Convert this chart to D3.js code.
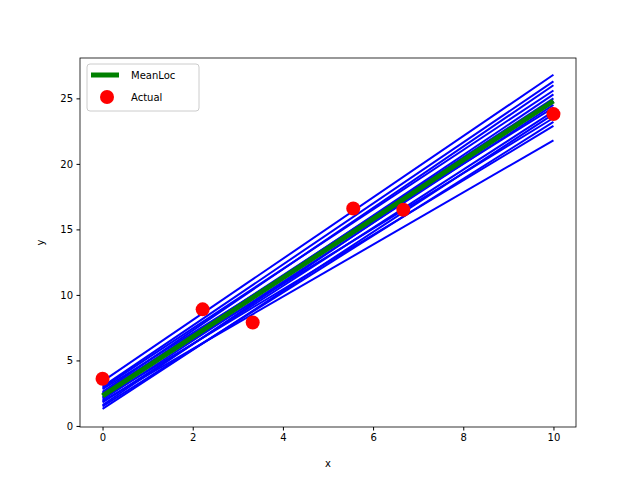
<!DOCTYPE html>
<html><head><meta charset="utf-8">
<script src="https://cdn.jsdelivr.net/npm/d3@7"></script>
<style>body{margin:0;background:#fff}text{font-family:"DejaVu Sans",sans-serif}</style>
</head><body><svg id="chart" width="640" height="480"></svg>
<script>
// sample lines: y at x=0 and at x=10
const lineStarts = [3.4, 3.0, 2.6, 2.9, 2.2, 2.5, 1.6, 2.0, 2.8, 1.8, 1.3, 2.4, 1.5, 2.1, 1.9];
const lineEnds   = [26.8, 26.3, 26.0, 25.6, 25.3, 25.0, 24.8, 24.5, 24.3, 24.0, 23.8, 23.5, 23.2, 22.9, 21.8];
const meanLine = [[0, 2.3], [10, 24.8]];
const actualX = [0, 2.22, 3.33, 5.56, 6.67, 10];
const actualY = [3.6, 8.9, 7.9, 16.6, 16.5, 23.8];
const xTicks = [0, 2, 4, 6, 8, 10];
const yTicks = [0, 5, 10, 15, 20, 25];

const svg = d3.select("#chart");
const L = 80, R = 576, T = 58, B = 427;
const x = d3.scaleLinear().domain([-0.5, 10.5]).range([L, R]);
const y = d3.scaleLinear().domain([-0.08, 28.08]).range([B, T]);

const line = d3.line().x(d => x(d[0])).y(d => y(d[1]));
const g = svg.append("g");
lineStarts.forEach((s, i) => {
  g.append("path").attr("d", line([[0, s], [10, lineEnds[i]]]))
    .attr("stroke", "blue").attr("stroke-width", 2).attr("fill", "none");
});
g.append("path").attr("d", line(meanLine))
  .attr("stroke", "green").attr("stroke-width", 5).attr("fill", "none");
g.selectAll("circle").data(actualX).join("circle")
  .attr("cx", d => x(d)).attr("cy", (d, i) => y(actualY[i])).attr("r", 7).attr("fill", "red");

svg.append("g").attr("transform", `translate(0,${B})`)
  .call(d3.axisBottom(x).tickValues(xTicks).tickSize(3.5).tickPadding(3.5))
  .call(a => a.select(".domain").remove())
  .selectAll("text").attr("font-size", 10).attr("fill", "#000");
svg.append("g").attr("transform", `translate(${L},0)`)
  .call(d3.axisLeft(y).tickValues(yTicks).tickSize(3.5).tickPadding(3.5))
  .call(a => a.select(".domain").remove())
  .selectAll("text").attr("font-size", 10).attr("fill", "#000");
svg.append("rect").attr("x", L).attr("y", T).attr("width", R - L).attr("height", B - T)
  .attr("fill", "none").attr("stroke", "#000").attr("stroke-width", 0.8);

svg.append("text").attr("x", (L + R) / 2).attr("y", 467).attr("text-anchor", "middle")
  .attr("font-size", 10).text("x");
svg.append("text").attr("transform", `translate(44,${(T + B) / 2}) rotate(-90)`)
  .attr("text-anchor", "middle").attr("font-size", 10).text("y");

const lg = svg.append("g");
lg.append("rect").attr("x", 87).attr("y", 64).attr("width", 112).attr("height", 47).attr("rx", 3)
  .attr("fill", "#fff").attr("fill-opacity", 0.8).attr("stroke", "#ccc");
lg.append("line").attr("x1", 91).attr("x2", 119).attr("y1", 75).attr("y2", 75)
  .attr("stroke", "green").attr("stroke-width", 5);
lg.append("text").attr("x", 131).attr("y", 79).attr("font-size", 10).text("MeanLoc");
lg.append("circle").attr("cx", 107).attr("cy", 97).attr("r", 7).attr("fill", "red");
lg.append("text").attr("x", 131).attr("y", 101).attr("font-size", 10).text("Actual");
</script></body></html>
